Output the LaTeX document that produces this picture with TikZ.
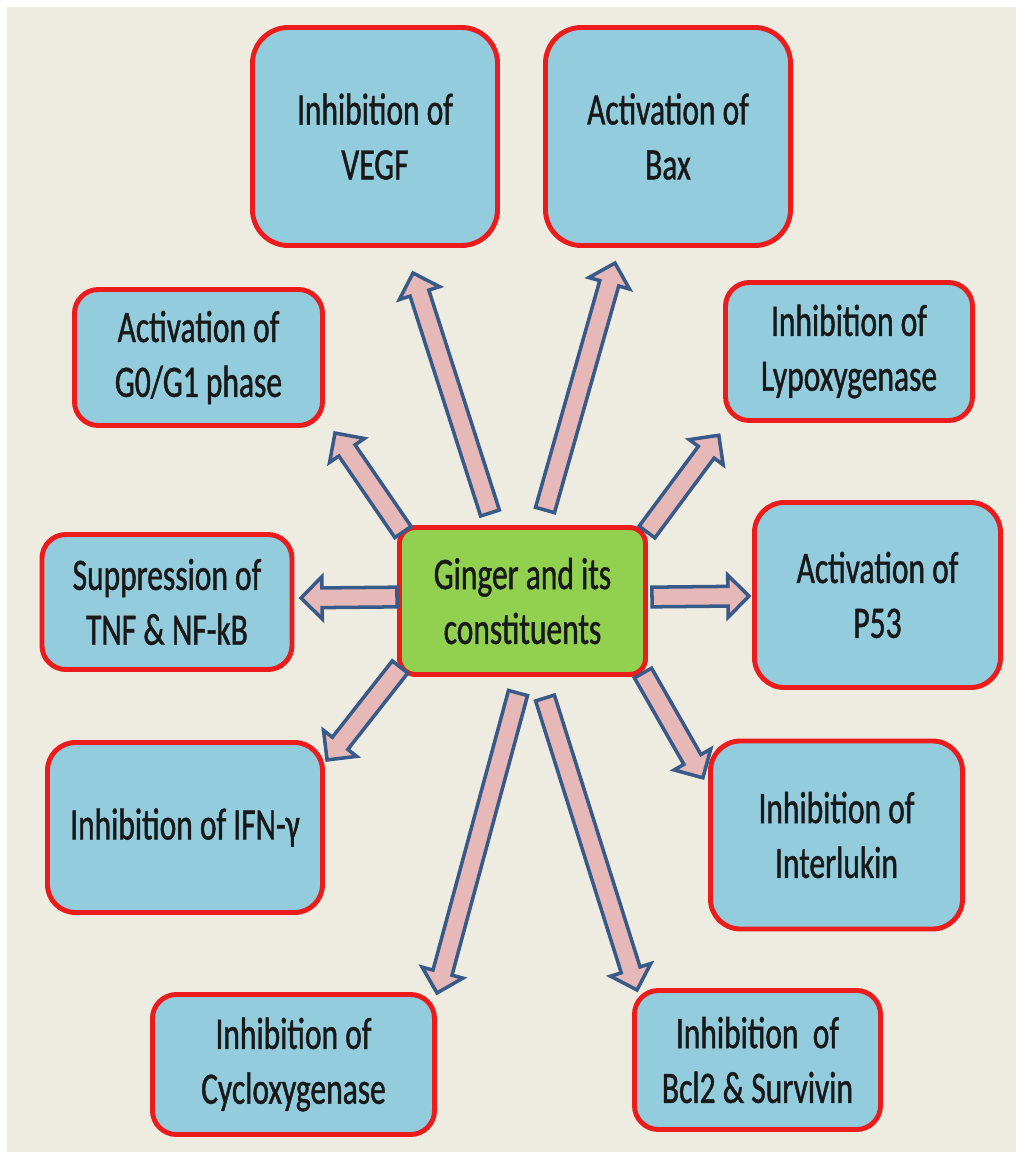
\documentclass[tikz,border=0pt]{standalone}
\usepackage{fontspec}
\setmainfont{Carlito}[FakeStretch=0.7,FakeBold=1]
\usetikzlibrary{calc}
\definecolor{BgTan}{HTML}{EEECE1}
\definecolor{BoxBlue}{HTML}{93CDDD}
\definecolor{BoxRed}{HTML}{EC1C1C}
\definecolor{CoreGreen}{HTML}{92D050}
\definecolor{ArrowPink}{HTML}{E6B9B8}
\definecolor{ArrowBlue}{HTML}{385A88}

\tikzset{
  effect/.style={draw=BoxRed, line width=3.5pt, fill=BoxBlue, rounded corners=#1,
    align=center, text=black!90, font=\fontsize{32}{39}\selectfont, inner sep=0pt},
  effect/.default=0.6cm,
  core/.style={effect=0.4cm, fill=CoreGreen},
  blockarrow/.style={draw=ArrowBlue, fill=ArrowPink, line width=2.5pt, line join=miter},
}

% block arrow from tail #1 to tip #2
\newcommand{\garrow}[2]{%
  \draw[blockarrow] let \p1=($(#2)-(#1)$), \n1={atan2(\y1,\x1)}, \n2={veclen(\x1,\y1)} in
    [shift={(#1)}, rotate=\n1]
    (0pt,-7pt) -- ({\n2-15pt},-7pt) -- ({\n2-15pt},-15pt) -- (\n2,0pt)
    -- ({\n2-15pt},15pt) -- ({\n2-15pt},7pt) -- (0pt,7pt) -- cycle;}

\begin{document}
\begin{tikzpicture}[x=0.025cm,y=-0.025cm]
  \useasboundingbox (0,0) rectangle (1016,1152);
  \fill[white] (0,0) rectangle (1016,1152);
  \fill[BgTan] (7,7) rectangle (1016,1152);

  % outcome boxes
  \node[effect=0.9cm, minimum width=6.125cm, minimum height=5.45cm] (vegf) at (375,136.5) {Inhibition of\\VEGF};
  \node[effect=0.9cm, minimum width=6.125cm, minimum height=5.45cm] (bax) at (668,136.5) {Activation of\\Bax};
  \node[effect, minimum width=6.2cm, minimum height=3.4cm] (gphase) at (198.5,357.5) {Activation of\\G0/G1 phase};
  \node[effect, minimum width=6.175cm, minimum height=3.45cm] (lipox) at (849,351.5) {Inhibition of\\Lypoxygenase};
  \node[effect, minimum width=6.25cm, minimum height=3.375cm] (tnf) at (167,602) {Suppression of\\TNF \& NF-kB};
  \node[core, minimum width=6.15cm, minimum height=3.675cm] (ginger) at (522.5,601) {Ginger and its\\constituents};
  \node[effect=0.75cm, minimum width=6.15cm, minimum height=4.625cm] (p53) at (877.5,595) {Activation of\\P53};
  \node[effect=0.7cm, minimum width=6.875cm, minimum height=4.25cm] (ifn) at (185,827.5) {Inhibition of IFN-γ};
  \node[effect=0.75cm, minimum width=6.3cm, minimum height=4.7cm] (ilk) at (836.5,835) {Inhibition of\\Interlukin};
  \node[effect, minimum width=7.05cm, minimum height=3.5cm] (cyclo) at (293.5,1064.5) {Inhibition of\\Cycloxygenase};
  \node[effect, minimum width=6.15cm, minimum height=3.475cm] (bcl) at (757.5,1060) {Inhibition~ of\\Bcl2 \& Survivin};

  % arrows out of the centre box
  \foreach \name/\tx/\ty/\hx/\hy in {vegf/490/513/413/273, bax/545/510/615/263,
      gphase/403/532/335/433, lipox/647/532/719/435, tnf/397/597/301/598,
      p53/652/597/749/596, ifn/400/667/327/760, ilk/643/673/703/778,
      cyclo/518/693/437/993, bcl/545/698/637/990} {
    \coordinate (\name-s) at (\tx,\ty);
    \coordinate (\name-e) at (\hx,\hy);
    \garrow{\name-s}{\name-e}
  }
\end{tikzpicture}
\end{document}
